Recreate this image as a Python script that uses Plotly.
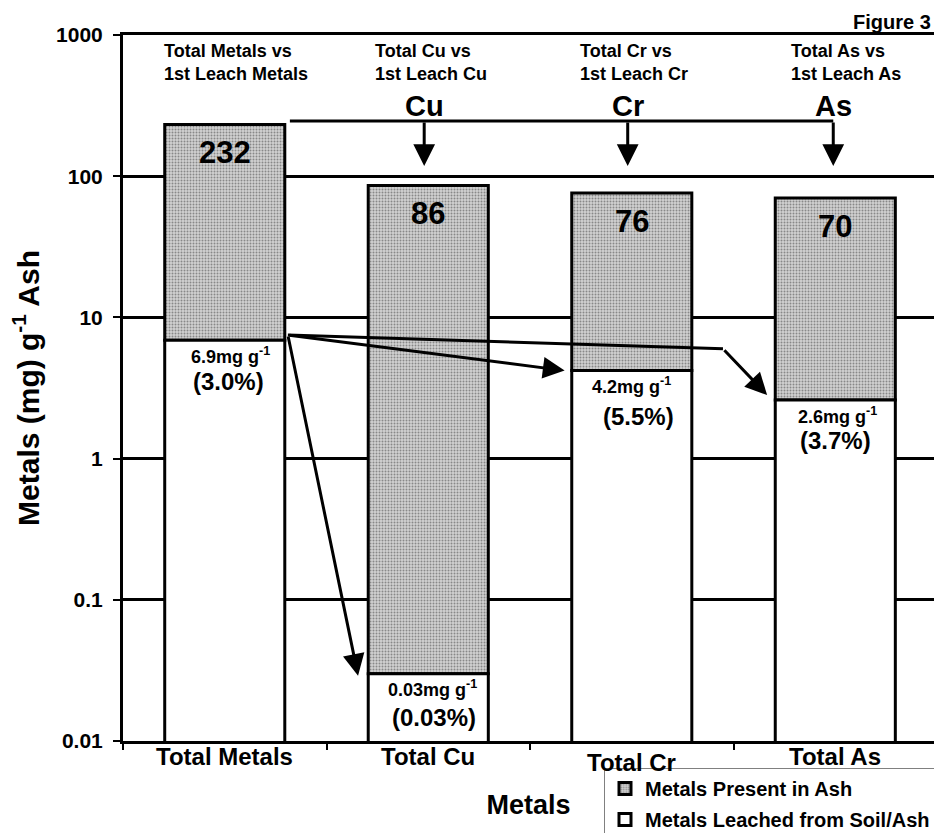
import numpy as np
import plotly.graph_objects as go

# ---- data -------------------------------------------------------------
categories = ["Total Metals", "Total Cu", "Total Cr", "Total As"]
total_in_ash = [232, 86, 76, 70]          # mg g-1 ash
leached_1st = [6.9, 0.03, 4.2, 2.6]       # mg g-1, 1st leach
leached_pct = ["(3.0%)", "(0.03%)", "(5.5%)", "(3.7%)"]
captions = [
    "Total Metals vs<br>1st Leach Metals",
    "Total Cu vs<br>1st Leach Cu",
    "Total Cr vs<br>1st Leach Cr",
    "Total As vs<br>1st Leach As",
]
elements = ["Cu", "Cr", "As"]
y_tick_values = [0.01, 0.1, 1, 10, 100, 1000]
y_tick_labels = ["0.01", "0.1", "1", "10", "100", "1000"]

# ---- styling ----------------------------------------------------------
FONT = "Arial, 'Liberation Sans', sans-serif"
BLACK = "black"
BAR_W = 0.59
LW = 3
xpos = list(range(len(categories)))

def bold(size):
    return dict(family=FONT, size=size, color=BLACK, weight="bold")

fig = go.Figure()

# grey upper segment: what remains in the ash
fig.add_trace(go.Bar(
    x=xpos,
    y=[t - l for t, l in zip(total_in_ash, leached_1st)],
    base=leached_1st,
    width=BAR_W,
    name="Metals Present in Ash",
    legendgroup="ash",
    marker=dict(
        color="#c8c8c8",
        line=dict(color=BLACK, width=LW),
        pattern=dict(shape=".", fgcolor="#888888", bgcolor="#d2d2d2",
                     size=3, solidity=0.35, fillmode="replace"),
    ),
    hoverinfo="skip",
))

# white lower segment: leached in the 1st leach
fig.add_trace(go.Bar(
    x=xpos,
    y=leached_1st,
    width=BAR_W,
    name="Metals Leached from Soil/Ash",
    legendgroup="leach",
    marker=dict(color="white", line=dict(color=BLACK, width=LW)),
    hoverinfo="skip",
))

# connector lines (no arrow heads)
start_pt = (0.31, 7.5)        # just right of the Total Metals leach level
corner_as = (2.448, 6.0)
bracket_y = 246
arrow_tip_y = 118
drop_x = [0.98, 1.98, 2.99]

fig.add_trace(go.Scatter(
    x=[start_pt[0], corner_as[0]], y=[start_pt[1], corner_as[1]],
    mode="lines", line=dict(color=BLACK, width=LW),
    showlegend=False, hoverinfo="skip",
))
fig.add_trace(go.Scatter(
    x=[0.32, drop_x[-1]], y=[bracket_y, bracket_y],
    mode="lines", line=dict(color=BLACK, width=LW),
    showlegend=False, hoverinfo="skip",
))

annotations = []

def arrow(tail, tip):
    annotations.append(dict(
        x=tip[0], y=np.log10(tip[1]), ax=tail[0], ay=np.log10(tail[1]),
        xref="x", yref="y", axref="x", ayref="y",
        text="", showarrow=True, arrowhead=2, arrowsize=1.45,
        arrowwidth=LW, arrowcolor=BLACK, standoff=0, startstandoff=0,
    ))

# arrows fanning out from the Total Metals leach level
arrow(start_pt, (0.655, 0.029))
arrow(start_pt, (xpos[2] - 0.33, leached_1st[2]))
arrow(corner_as, (2.665, 2.82))
# drop arrows from the top bracket
for dx in drop_x:
    arrow((dx, bracket_y), (dx, arrow_tip_y))

# totals inside the grey segments
for i, t in enumerate(total_in_ash):
    annotations.append(dict(
        x=xpos[i], y=np.log10(t), xref="x", yref="y",
        text=str(t), showarrow=False, yanchor="middle", yshift=-28,
        font=bold(31),
    ))

# leached amounts and percentages under the split
unit_dx = [0.03, 0.02, 0.0, 0.01]
pct_dx = [0.02, 0.03, 0.035, 0.0]
pct_dy = [-41, -44, -46, -40]
for i, l in enumerate(leached_1st):
    annotations.append(dict(
        x=xpos[i] + unit_dx[i], y=np.log10(l), xref="x", yref="y",
        text=f"{l:g}mg g<sup>-1</sup>", showarrow=False,
        yanchor="middle", yshift=-15, font=bold(18),
    ))
    annotations.append(dict(
        x=xpos[i] + pct_dx[i], y=np.log10(l), xref="x", yref="y",
        text=leached_pct[i], showarrow=False,
        yanchor="middle", yshift=pct_dy[i], font=bold(24),
    ))

# captions along the top
caption_x = [-0.308, 0.728, 1.736, 2.773]
for cx, cap in zip(caption_x, captions):
    annotations.append(dict(
        x=cx, y=1, xref="x", yref="paper", text=cap, showarrow=False,
        xanchor="left", yanchor="top", align="left", yshift=-4,
        font=bold(18),
    ))

# element symbols above the bracket
for dx, el in zip(drop_x, elements):
    annotations.append(dict(
        x=dx, y=np.log10(bracket_y), xref="x", yref="y", text=el,
        showarrow=False, yanchor="bottom", yshift=-3, font=bold(29),
    ))

# category labels under the axis
cat_dy = [-15, -15, -21, -15]
for i, c in enumerate(categories):
    annotations.append(dict(
        x=xpos[i], y=0, xref="x", yref="paper", text=c, showarrow=False,
        yanchor="middle", yshift=cat_dy[i], font=bold(24),
    ))

annotations.append(dict(
    x=1, y=1, xref="paper", yref="paper", text="Figure 3", showarrow=False,
    xanchor="right", yanchor="middle", yshift=13, xshift=-1, font=bold(20),
))

fig.update_layout(
    template="none",
    width=934, height=833,
    margin=dict(l=123, r=0, t=35, b=92, pad=0, autoexpand=False),
    paper_bgcolor="white", plot_bgcolor="white",
    barmode="overlay",
    font=dict(family=FONT, color=BLACK, weight="bold"),
    annotations=annotations,
    legend=dict(
        x=(604 - 123) / 811, xanchor="left",
        y=(741 - 768) / 706, yanchor="top",
        bgcolor="white", bordercolor="#808080", borderwidth=1,
        font=bold(20), traceorder="grouped", tracegroupgap=2,
        itemwidth=30,
    ),
    xaxis=dict(
        range=[-0.5, 3.485], showgrid=False, zeroline=False,
        showline=True, linecolor=BLACK, linewidth=LW, mirror=True,
        tickmode="array", tickvals=[-0.5, 0.5, 1.5, 2.5, 3.5],
        ticks="outside", ticklen=6, tickwidth=1.5, tickcolor=BLACK,
        showticklabels=False,
        title=dict(text="Metals", font=bold(27), standoff=47),
    ),
    yaxis=dict(
        type="log", range=[-2, 3],
        tickmode="array", tickvals=y_tick_values, ticktext=y_tick_labels,
        ticks="outside", ticklen=7, tickwidth=1.5, tickcolor=BLACK,
        tickfont=bold(21), ticklabelstandoff=6,
        showline=True, linecolor=BLACK, linewidth=LW,
        showgrid=True, gridcolor=BLACK, gridwidth=LW, zeroline=False,
        title=dict(text="Metals (mg) g<sup>-1</sup> Ash", font=bold(30),
                   standoff=8),
    ),
)

fig.write_html("out.html")
